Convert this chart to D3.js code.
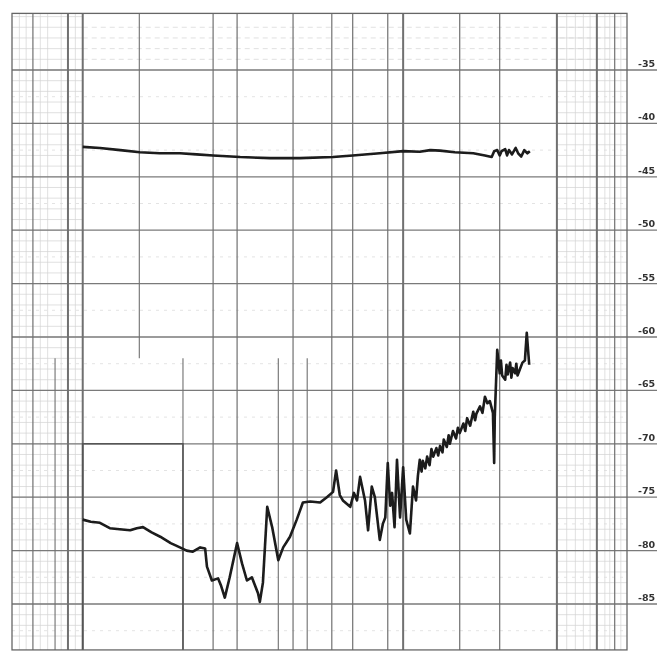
<!DOCTYPE html>
<html>
<head>
<meta charset="utf-8">
<script src="https://cdn.jsdelivr.net/npm/d3@7"></script>
<style>
  body { margin: 0; background: #fff; }
</style>
</head>
<body>
<div class="wrapper"></div>
<script>
// level ticks on the right edge (dB)
const levelTicks = [-35, -40, -45, -50, -55, -60, -65, -70, -75, -80, -85]

// vertical rulings of the recorder paper, in chart divisions (0..100)
const majorRulings = [3.4, 9.1, 11.5, 32.7, 36.6, 45.7, 52.0, 55.4, 61.1, 63.6, 72.8, 79.3, 88.6, 95.1, 98.0]
const upperOnlyRulings = [20.7]
const lowerOnlyRulings = [7.0, 27.8, 43.3, 48.0]
const heavyRulings = [9.1, 11.5, 63.6, 88.6, 95.1]

// upper trace: [position, level]
const upperTrace = [
  [11.5, -42.2], [14.3, -42.3], [17.6, -42.5], [20.8, -42.7], [24.0, -42.8], [27.3, -42.8],
  [30.0, -42.9], [32.7, -43.0], [37.1, -43.15], [42.0, -43.25], [46.8, -43.25], [52.2, -43.15],
  [55.4, -43.0], [59.8, -42.8], [63.6, -42.6], [66.3, -42.65], [68.0, -42.5], [69.6, -42.55],
  [72.0, -42.7], [75.0, -42.8], [76.9, -43.0], [78.0, -43.15], [78.4, -42.6], [78.9, -42.5],
  [79.3, -43.0], [79.6, -42.6], [80.2, -42.4], [80.5, -43.0], [80.8, -42.5], [81.3, -42.9],
  [81.9, -42.3], [82.3, -42.8], [82.8, -43.1], [83.3, -42.5], [83.8, -42.8], [84.2, -42.6]
]

// lower trace: [position, level]
const lowerTrace = [
  [11.5, -77.1], [12.8, -77.3], [14.3, -77.4], [15.9, -77.9], [17.5, -78.0], [19.2, -78.1],
  [20.3, -77.9], [21.3, -77.8], [22.7, -78.3], [24.1, -78.7], [25.8, -79.3], [27.3, -79.7],
  [28.4, -80.0], [29.4, -80.1], [30.6, -79.7], [31.4, -79.8], [31.7, -81.5], [32.5, -82.8],
  [33.5, -82.6], [34.0, -83.3], [34.6, -84.4], [35.4, -82.5], [36.6, -79.3], [37.4, -81.2],
  [38.2, -82.8], [39.0, -82.5], [40.0, -84.0], [40.3, -84.8], [40.8, -83.0], [41.5, -75.9],
  [42.3, -77.8], [43.3, -80.9], [44.1, -79.7], [45.2, -78.7], [46.3, -77.1], [47.3, -75.5],
  [48.5, -75.4], [50.1, -75.5], [51.2, -75.0], [52.2, -74.5], [52.7, -72.5], [53.3, -74.8],
  [53.8, -75.3], [55.0, -75.9], [55.6, -74.6], [56.1, -75.3], [56.6, -73.1], [57.0, -74.2],
  [57.4, -75.3], [57.9, -78.1], [58.5, -74.0], [59.0, -75.0], [59.3, -76.5], [59.8, -79.0],
  [60.3, -77.5], [60.7, -76.9], [61.1, -71.8], [61.5, -75.8], [61.8, -74.6], [62.2, -77.8],
  [62.6, -71.5], [63.1, -76.9], [63.6, -72.2], [64.1, -77.1], [64.7, -78.4], [65.2, -74.0],
  [65.7, -75.3], [66.0, -73.0], [66.3, -71.5], [66.6, -72.6], [66.8, -71.6], [67.2, -72.3],
  [67.5, -71.2], [67.9, -72.0], [68.2, -70.5], [68.5, -71.2], [69.0, -70.4], [69.3, -71.1],
  [69.6, -70.2], [70.0, -70.8], [70.2, -69.6], [70.7, -70.3], [71.0, -69.2], [71.2, -70.0],
  [71.7, -68.8], [72.2, -69.5], [72.5, -68.5], [72.8, -69.0], [73.4, -68.1], [73.7, -68.8],
  [74.0, -67.6], [74.5, -68.3], [75.0, -67.0], [75.3, -67.8], [75.5, -67.2], [76.1, -66.5],
  [76.5, -67.1], [76.9, -65.6], [77.3, -66.2], [77.7, -66.0], [78.2, -67.1], [78.4, -71.8],
  [78.5, -67.5], [78.9, -61.2], [79.3, -63.4], [79.5, -62.2], [79.7, -63.6], [80.2, -64.0],
  [80.4, -62.6], [80.6, -63.5], [81.0, -62.4], [81.2, -63.8], [81.4, -62.9], [81.8, -63.4],
  [82.0, -62.5], [82.2, -63.6], [82.6, -63.0], [83.0, -62.4], [83.4, -62.2], [83.7, -59.6],
  [84.1, -62.6]
]

const width = 669,
  height = 660

// paper extent
const paperTop = -29.7,
  paperBottom = -89.3

const x = d3.scaleLinear().domain([0, 100]).range([12, 627])
const y = d3.scaleLinear().domain([-35, -85]).range([70, 604])

const svg = d3.select('.wrapper')
  .append('svg')
  .attr('width', width)
  .attr('height', height)

// scanned look
svg.append('defs').append('filter')
  .attr('id', 'scan')
  .append('feGaussianBlur')
  .attr('stdDeviation', 0.7)

const g = svg.append('g').attr('filter', 'url(#scan)')

// fine rulings in the dense strips (left, right, top band)
const fine = g.append('g').attr('stroke', '#d2d2d2').attr('stroke-width', 0.7)
const fineLevels = d3.range(-30, -89, -1)
fine.selectAll('line.fl')
  .data(fineLevels)
  .join('line')
  .attr('x1', x(0)).attr('x2', x(11.5))
  .attr('y1', d => y(d)).attr('y2', d => y(d))
fine.selectAll('line.fr')
  .data(fineLevels)
  .join('line')
  .attr('x1', x(88.6)).attr('x2', x(100))
  .attr('y1', d => y(d)).attr('y2', d => y(d))
fine.selectAll('line.ft')
  .data(d3.range(-31, -35, -1))
  .join('line')
  .attr('x1', x(11.5)).attr('x2', x(100))
  .attr('y1', d => y(d)).attr('y2', d => y(d))
  .attr('stroke-dasharray', '5,4')
fine.selectAll('line.fv')
  .data([1.2, 2.3, 4.6, 5.8, 8.0, 10.3, 90.2, 91.6, 92.9, 94.0, 96.4, 97.2, 99.0])
  .join('line')
  .attr('x1', d => x(d)).attr('x2', d => x(d))
  .attr('y1', y(paperTop)).attr('y2', y(paperBottom))

// half-step rulings, faint across the paper
g.append('g')
  .attr('stroke', '#dcdcdc')
  .attr('stroke-width', 0.8)
  .attr('stroke-dasharray', '3,5')
  .selectAll('line')
  .data(levelTicks.map(d => d - 2.5))
  .join('line')
  .attr('x1', x(0)).attr('x2', x(100))
  .attr('y1', d => y(d)).attr('y2', d => y(d))

// major level rulings, running past the right edge under the labels
g.append('g')
  .attr('stroke', '#7a7a7a')
  .attr('stroke-width', 1.3)
  .selectAll('line')
  .data(levelTicks)
  .join('line')
  .attr('x1', x(0)).attr('x2', 657)
  .attr('y1', d => y(d)).attr('y2', d => y(d))

// vertical rulings
const vert = g.append('g').attr('stroke', '#707070')
vert.selectAll('line.full')
  .data(majorRulings)
  .join('line')
  .attr('stroke-width', d => heavyRulings.includes(d) ? 2 : 1.2)
  .attr('x1', d => x(d)).attr('x2', d => x(d))
  .attr('y1', y(paperTop)).attr('y2', y(paperBottom))
vert.selectAll('line.up')
  .data(upperOnlyRulings)
  .join('line')
  .attr('stroke-width', 1.1)
  .attr('x1', d => x(d)).attr('x2', d => x(d))
  .attr('y1', y(paperTop)).attr('y2', y(-62))
vert.selectAll('line.low')
  .data(lowerOnlyRulings)
  .join('line')
  .attr('stroke-width', 1.1)
  .attr('x1', d => x(d)).attr('x2', d => x(d))
  .attr('y1', y(-62)).attr('y2', y(paperBottom))

// heavier box in the lower left
g.append('path')
  .attr('fill', 'none')
  .attr('stroke', '#555')
  .attr('stroke-width', 1.6)
  .attr('d', `M${x(11.5)},${y(paperBottom)} V${y(-70)} H${x(27.8)} V${y(paperBottom)}`)

// paper border
g.append('rect')
  .attr('x', x(0)).attr('y', y(paperTop))
  .attr('width', x(100) - x(0))
  .attr('height', y(paperBottom) - y(paperTop))
  .attr('fill', 'none')
  .attr('stroke', '#666')
  .attr('stroke-width', 1.3)

// level labels
g.append('g')
  .selectAll('text')
  .data(levelTicks)
  .join('text')
  .attr('x', 638)
  .attr('y', d => y(d) - 3)
  .attr('font-family', 'DejaVu Sans, sans-serif')
  .attr('font-size', 9.5)
  .attr('font-weight', 'bold')
  .attr('fill', '#333')
  .text(d => d)

// traces
const line = d3.line()
  .x(d => x(d[0]))
  .y(d => y(d[1]))

g.append('path')
  .datum(upperTrace)
  .attr('fill', 'none')
  .attr('stroke', '#1a1a1a')
  .attr('stroke-width', 2.6)
  .attr('stroke-linejoin', 'round')
  .attr('d', line)

g.append('path')
  .datum(lowerTrace)
  .attr('fill', 'none')
  .attr('stroke', '#1a1a1a')
  .attr('stroke-width', 2.6)
  .attr('stroke-linejoin', 'round')
  .attr('d', line)
</script>
</body>
</html>
